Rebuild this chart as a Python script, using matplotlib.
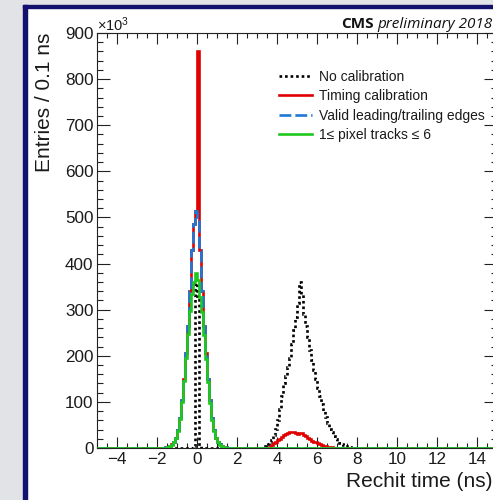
import numpy as np
import matplotlib.pyplot as plt
from matplotlib.patches import Rectangle
from matplotlib.lines import Line2D
from matplotlib.ticker import MultipleLocator

plt.rcParams['font.family'] = ['Liberation Sans', 'DejaVu Sans']
plt.rcParams['mathtext.fontset'] = 'custom'
plt.rcParams['mathtext.rm'] = 'Liberation Sans'
plt.rcParams['mathtext.it'] = 'Liberation Sans:italic'

# binning: 0.1 ns bins from -5 to 15 ns, entries in units of 10^3
x_lo, x_hi, bin_w = -5.0, 15.0, 0.1

# central peak, bins starting at -1.6 ns
core_start = -1.6
nocal_core = [0, 0, 0, 0, 0, 0, 0, 0, 0, 0, 0, 0, 0, 1, 4,
              357, 330, 5, 1, 0, 0, 0, 0, 0, 0, 0, 0, 0, 0, 0, 0]
timing_core = [2, 3, 5, 8, 13, 22, 38, 65, 105, 150, 205, 265, 340, 430, 486,
               515, 860, 430, 340, 265, 205, 150, 105, 65, 38, 22, 13, 8, 5, 3, 2]
valid_core = [2, 3, 5, 8, 13, 22, 38, 65, 105, 150, 205, 265, 340, 430, 486,
              515, 492, 430, 340, 265, 205, 150, 105, 65, 38, 22, 13, 8, 5, 3, 2]
pixel_core = [1, 2, 4, 7, 12, 21, 36, 62, 100, 145, 195, 248, 298, 335, 360,
              380, 364, 328, 296, 246, 193, 143, 98, 61, 36, 21, 12, 7, 4, 2, 1]

# out-of-time bump, no calibration (bins starting at 3.3 ns)
nocal_bump_start = 3.3
nocal_bump = [2, 4, 8, 12, 18, 28, 42, 60, 85, 112, 140, 157, 175, 195, 225, 255,
              285, 315, 361, 335, 290, 265, 240, 212, 190, 170, 150, 130, 112, 95,
              80, 68, 55, 42, 35, 27, 20, 15, 11, 8, 6, 4, 3, 2, 1, 1]

# out-of-time bump, timing calibration (bins starting at 3.5 ns)
timing_bump_start = 3.5
timing_bump = [1, 3, 6, 10, 13, 17, 20, 24, 28, 30, 32, 34, 35, 34, 32, 31, 32,
               33, 29, 25, 22, 19, 16, 14, 12, 10, 8, 6, 5, 4, 3, 2, 2, 1, 1]

labels = ['No calibration', 'Timing calibration',
          'Valid leading/trailing edges', u'1\u2264 pixel tracks \u2264 6']

edges = np.round(np.arange(x_lo, x_hi + bin_w / 2, bin_w), 1)


def build(pieces):
    h = np.zeros(len(edges) - 1)
    for start, vals in pieces:
        i = int(round((start - x_lo) / bin_w))
        h[i:i + len(vals)] = vals
    return h


h_nocal = build([(core_start, nocal_core), (nocal_bump_start, nocal_bump)])
h_timing = build([(core_start, timing_core), (timing_bump_start, timing_bump)])
h_valid = build([(core_start, valid_core)])
h_pixel = build([(core_start, pixel_core)])

W, H = 493, 500
fig = plt.figure(figsize=(W / 100, H / 100), dpi=100)
fig.patch.set_facecolor('white')

# slide background: grey margins and navy frame
grey = '#e2e3e6'
navy = '#12126e'
fig.patches.append(Rectangle((0, 0), 23 / W, 1, transform=fig.transFigure,
                             color=grey, zorder=-10))
fig.patches.append(Rectangle((0, 1 - 5 / H), 1, 5 / H, transform=fig.transFigure,
                             color=grey, zorder=-10))
fig.patches.append(Rectangle((23 / W, 0), 4 / W, 1 - 5 / H, transform=fig.transFigure,
                             color=navy, zorder=-9))
fig.patches.append(Rectangle((23 / W, 1 - 8 / H), 1, 3 / H, transform=fig.transFigure,
                             color=navy, zorder=-9))

ax = fig.add_axes([97 / W, 52 / H, 400 / W, 415 / H])
ax.set_facecolor('white')

c_black = '#000000'
c_red = '#e00000'
c_blue = '#1f78d8'
c_green = '#1ec81e'
lw = 1.9

ax.stairs(h_nocal, edges, color=c_black, lw=lw, linestyle=(0, (1, 1.1)), zorder=2)
ax.stairs(h_timing, edges, color=c_red, lw=lw, zorder=3)
ax.stairs(h_valid, edges, color=c_blue, lw=lw, linestyle=(0, (4.5, 1.5)), zorder=4)
ax.stairs(h_pixel, edges, color=c_green, lw=lw, zorder=5)

ax.set_xlim(x_lo, x_hi)
ax.set_ylim(0, 900)
ax.xaxis.set_major_locator(MultipleLocator(2))
ax.xaxis.set_minor_locator(MultipleLocator(0.5))
ax.yaxis.set_major_locator(MultipleLocator(100))
ax.yaxis.set_minor_locator(MultipleLocator(20))

ax.tick_params(which='both', direction='in', top=True, right=True,
               width=0.8, color='#222222', labelsize=12.3, labelcolor='#1a1a1a')
ax.tick_params(axis='x', which='major', length=7.7, pad=3)
ax.tick_params(axis='x', which='minor', length=3.6)
ax.tick_params(axis='y', which='major', length=9.4, pad=2.5)
ax.tick_params(axis='y', which='minor', length=4.3)
for s in ax.spines.values():
    s.set_linewidth(0.8)
    s.set_color('#222222')

ax.set_xlabel('Rechit time (ns)', loc='right', fontsize=15, color='#1a1a1a')
ax.xaxis.set_label_coords(0.988, -0.058)
ax.set_ylabel('Entries / 0.1 ns', loc='top', fontsize=15, color='#1a1a1a')
ax.yaxis.set_label_coords(-0.107, 1.0)

ax.text(0.0, 1.004, r'$\times10^{3}$', transform=ax.transAxes, fontsize=10.5,
        ha='left', va='baseline', color='#1a1a1a')

handles = [Line2D([], [], color=c_black, lw=lw, linestyle=(0, (1, 1.1))),
           Line2D([], [], color=c_red, lw=lw),
           Line2D([], [], color=c_blue, lw=lw, linestyle=(0, (4.5, 1.5))),
           Line2D([], [], color=c_green, lw=lw)]
leg = ax.legend(handles, labels, loc='upper left',
                bbox_to_anchor=(279 / W, 1 - 70 / H), bbox_transform=fig.transFigure,
                frameon=False, fontsize=10, borderpad=0, borderaxespad=0,
                handlelength=2.37, handletextpad=0.5, labelspacing=0.38)
for t in leg.get_texts():
    t.set_color('#1a1a1a')

fig.text(341 / W, 1 - 28 / H, 'CMS', fontsize=11, fontweight='bold',
         family='Open Sans', ha='left', va='baseline', color='#111111')
fig.text(377 / W, 1 - 28 / H, 'preliminary 2018', fontsize=11, style='italic',
         family='Open Sans', ha='left', va='baseline', color='#111111')

fig.savefig('out.png', dpi=100)
